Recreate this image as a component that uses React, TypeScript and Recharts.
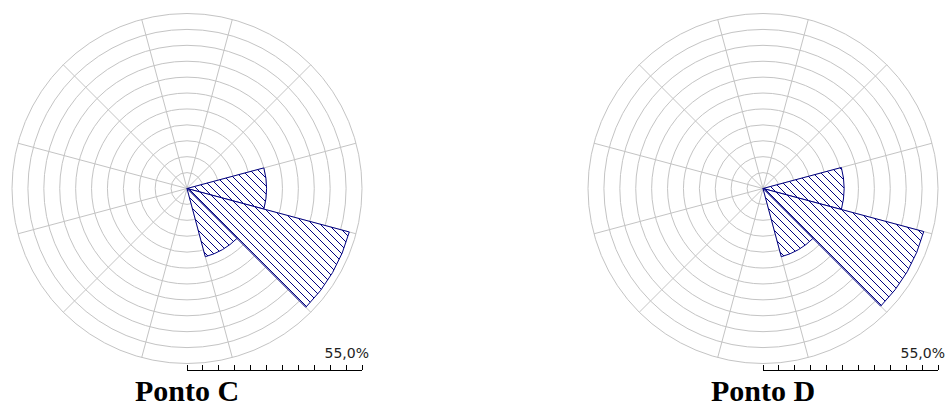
import {
  RadialBarChart,
  RadialBar,
  PolarGrid,
  PolarAngleAxis,
  PolarRadiusAxis,
  LineChart,
  XAxis,
} from 'recharts'

// 12 direction classes, 30° apart, clockwise from north
const directions = ['N', '30', '60', 'E', '120', '150', 'S', '210', '240', 'W', '300', '330']

// frequency per direction (%)
const pontoC = [0, 0, 0, 25.0, 52.8, 22.2, 0, 0, 0, 0, 0, 0]
const pontoD = [0, 0, 0, 25.5, 52.3, 22.2, 0, 0, 0, 0, 0, 0]

const scaleMax = 55
const scaleTicks = [0, 5, 10, 15, 20, 25, 30, 35, 40, 45, 50, 55]

const R = 175
const CX = 187
const CY = 188.5
const NAVY = '#000080'

const NoLabel = () => <g />

function RosePanel({ id, title, values, left }: { id: string; title: string; values: number[]; left: number }) {
  const data = directions.map((dir, i) => ({ dir, value: values[i] }))
  const scaleData = scaleTicks.map((v) => ({ v }))
  const step = 360 / directions.length
  // first band (N) spans 90 - step/2 .. 90 + step/2
  const start = 90 - step / 2
  const boundaries = directions.map((_, i) => 90 + step / 2 - i * step)
  const scaleLabel = scaleMax.toFixed(1).replace('.', ',') + '%'
  const hatchId = 'hatch-' + id

  return (
    <div style={{ position: 'absolute', left, top: 0, width: 380, height: 408 }}>
      <RadialBarChart
        width={380}
        height={380}
        data={data}
        layout="centric"
        cx={CX}
        cy={CY}
        innerRadius={0}
        outerRadius={R}
        startAngle={start}
        endAngle={start - 360}
        barCategoryGap={0}
        barGap={0}
        margin={{ top: 0, right: 0, bottom: 0, left: 0 }}
      >
        <defs>
          <pattern id={hatchId} patternUnits="userSpaceOnUse" width={8} height={8}>
            <rect width={8} height={8} fill="#fff" />
            <path d="M0,0 L8,8 M-2,6 L2,10 M6,-2 L10,2" stroke={NAVY} strokeWidth={1} />
          </pattern>
        </defs>
        <PolarGrid gridType="circle" polarAngles={boundaries} stroke="#c4c4c4" strokeWidth={1} />
        <PolarAngleAxis type="category" dataKey="dir" tick={false} axisLine={false} />
        <PolarRadiusAxis type="number" domain={[0, scaleMax]} ticks={scaleTicks} tick={false} axisLine={false} />
        <RadialBar dataKey="value" fill={`url(#${hatchId})`} stroke={NAVY} strokeWidth={1} isAnimationActive={false} />
      </RadialBarChart>

      {/* scale ruler */}
      <div style={{ position: 'absolute', left: CX - 4, top: 340 }}>
        <LineChart width={R + 8} height={32} data={scaleData} margin={{ top: 0, right: 4, bottom: 2, left: 4 }}>
          <XAxis
            type="number"
            dataKey="v"
            orientation="top"
            domain={[0, scaleMax]}
            ticks={scaleTicks}
            interval={0}
            tickSize={5}
            height={30}
            tick={<NoLabel />}
            axisLine={{ stroke: '#000', shapeRendering: 'crispEdges' }}
            tickLine={{ stroke: '#000', shapeRendering: 'crispEdges' }}
          />
        </LineChart>
      </div>
      <div
        style={{
          position: 'absolute',
          left: CX + 182 - 80,
          width: 80,
          top: 346,
          textAlign: 'right',
          font: '14px "DejaVu Sans", sans-serif',
          lineHeight: '14px',
          color: '#222',
        }}
      >
        {scaleLabel}
      </div>

      <div
        style={{
          position: 'absolute',
          left: CX - 100,
          width: 200,
          top: 379,
          textAlign: 'center',
          font: 'bold 30px "Liberation Serif", "Times New Roman", serif',
          lineHeight: '24px',
          color: '#000',
        }}
      >
        {title}
      </div>
    </div>
  )
}

export default function App() {
  return (
    <div style={{ position: 'absolute', left: 0, top: 0, width: 946, height: 408, background: '#fff' }}>
      <RosePanel id="c" title="Ponto C" values={pontoC} left={0} />
      <RosePanel id="d" title="Ponto D" values={pontoD} left={576} />
    </div>
  )
}
